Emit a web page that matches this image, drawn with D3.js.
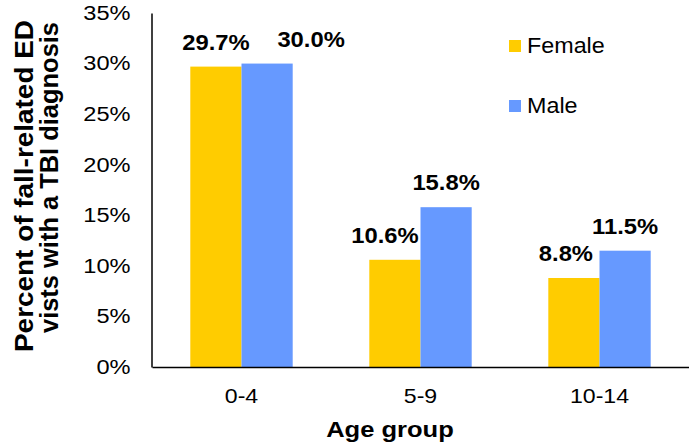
<!DOCTYPE html>
<html>
<head>
<meta charset="utf-8">
<script src="https://cdn.jsdelivr.net/npm/d3@7/dist/d3.min.js"></script>
<style>
  html, body { margin: 0; padding: 0; background: #fff; }
  svg { display: block; font-family: "Liberation Sans", Arial, sans-serif; }
</style>
</head>
<body>
<svg id="chart" width="689" height="444"></svg>
<script>
// Share of fall-related ED visits with a TBI diagnosis, by age group and sex
const categories = ["0-4", "5-9", "10-14"];
const seriesNames = ["Female", "Male"];
const female = [0.297, 0.106, 0.088];
const male = [0.300, 0.158, 0.115];
const yTicks = [0, 0.05, 0.10, 0.15, 0.20, 0.25, 0.30, 0.35];

const colors = { Female: "#FFCC00", Male: "#6699FF" };

const svg = d3.select("#chart");
const margin = { top: 13, right: 0, bottom: 77, left: 152 };
const W = 689, H = 444;
const plotBottom = H - margin.bottom;

// Widen glyphs slightly along the text direction
function widen(sel, k) {
  sel.each(function () {
    const w = this.getComputedTextLength();
    this.setAttribute("textLength", w * k);
    this.setAttribute("lengthAdjust", "spacingAndGlyphs");
  });
}

const y = d3.scaleLinear().domain([0, 0.35]).range([plotBottom, margin.top]);
const x = d3.scaleBand().domain(categories).range([margin.left, W - margin.right])
  .paddingInner(0.428).paddingOuter(0.214);
const xs = d3.scaleBand().domain(seriesNames).range([0, x.bandwidth()]);

const rows = categories.map((c, i) => ({ cat: c, Female: female[i], Male: male[i] }));

// Bars
const groups = svg.append("g").selectAll("g").data(rows).join("g")
  .attr("transform", d => `translate(${x(d.cat)},0)`);
groups.selectAll("rect")
  .data(d => seriesNames.map(s => ({ s, v: d[s], cat: d.cat })))
  .join("rect")
  .attr("x", d => xs(d.s))
  .attr("y", d => y(d.v))
  .attr("width", xs.bandwidth())
  .attr("height", d => plotBottom - y(d.v))
  .attr("fill", d => colors[d.s]);

// Value labels (a few are nudged sideways to avoid crowding)
const labelNudge = { "0-4|Male": 44, "5-9|Female": -10, "10-14|Female": -8 };
const labels = groups.selectAll("text.val")
  .data(d => seriesNames.map(s => ({ s, v: d[s], cat: d.cat })))
  .join("text").attr("class", "val")
  .attr("x", d => xs(d.s) + xs.bandwidth() / 2 + (labelNudge[d.cat + "|" + d.s] || 0))
  .attr("y", d => y(d.v) - 17)
  .attr("text-anchor", "middle")
  .attr("font-size", 22).attr("font-weight", "bold").attr("fill", "#000")
  .text(d => (d.v * 100).toFixed(1) + "%");
widen(labels, 1.08);

// Y axis
const yAxis = svg.append("g").attr("transform", `translate(${margin.left - 0.5},0)`)
  .call(d3.axisLeft(y).tickValues(yTicks).tickSize(0).tickPadding(21)
    .tickFormat(d => Math.round(d * 100) + "%"));
yAxis.select(".domain").attr("stroke", "#000").attr("stroke-width", 1.5);
yAxis.selectAll("text").attr("font-size", 20).attr("fill", "#000")
  .attr("font-family", "Liberation Sans, Arial, sans-serif");
widen(yAxis.selectAll("text"), 1.18);

// X axis
const xAxis = svg.append("g").attr("transform", `translate(0,${plotBottom})`)
  .call(d3.axisBottom(x).tickSize(0).tickPadding(21));
xAxis.select(".domain").attr("stroke", "#000").attr("stroke-width", 1.5);
xAxis.selectAll("text").attr("font-size", 21).attr("fill", "#000")
  .attr("font-family", "Liberation Sans, Arial, sans-serif");
widen(xAxis.selectAll("text"), 1.1);

// Axis titles
const xTitle = svg.append("text")
  .attr("x", 390).attr("y", 437)
  .attr("text-anchor", "middle").attr("font-size", 22).attr("font-weight", "bold")
  .text("Age group");
widen(xTitle, 1.16);

// Two-line rotated y title; each line is stretched to its own length
const yTitleLines = [
  { text: "Percent of fall-related ED", top: 20, len: 332 },
  { text: "vists with a TBI diagnosis", top: 22, len: 311 }
];
const yTitle = svg.append("g").attr("transform", "rotate(-90)");
yTitle.selectAll("text").data(yTitleLines).join("text")
  .attr("x", d => -d.top).attr("y", (d, i) => 33 + i * 25)
  .attr("text-anchor", "end").attr("font-size", 25).attr("font-weight", "bold")
  .attr("textLength", d => d.len).attr("lengthAdjust", "spacingAndGlyphs")
  .text(d => d.text);

// Legend
const legend = svg.append("g").selectAll("g").data(seriesNames).join("g")
  .attr("transform", (d, i) => `translate(509,${40 + i * 60})`);
legend.append("rect").attr("width", 12).attr("height", 12).attr("fill", d => colors[d]);
const legText = legend.append("text").attr("x", 18).attr("y", 13)
  .attr("font-size", 22).attr("fill", "#000").text(d => d);
widen(legText, 1.06);
</script>
</body>
</html>
